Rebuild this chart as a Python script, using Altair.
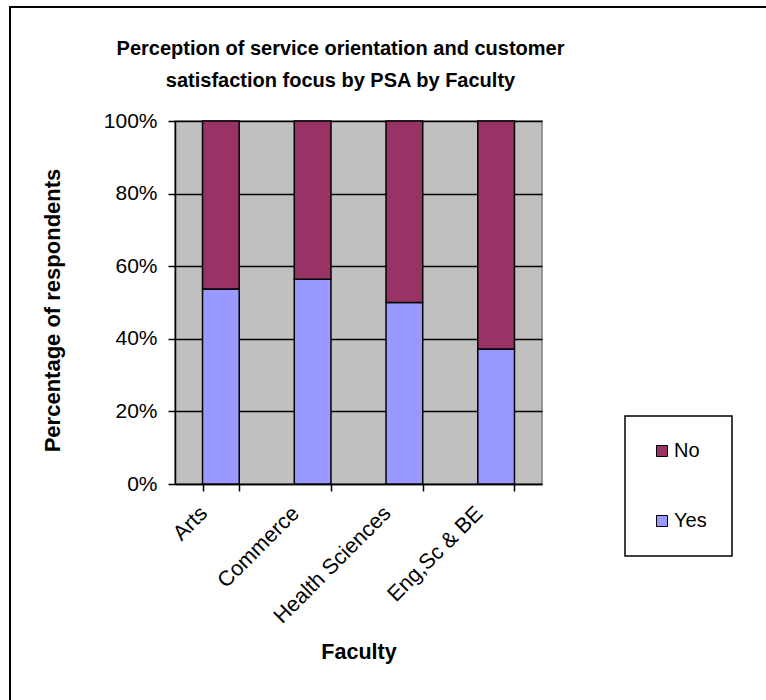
import altair as alt
import pandas as pd

faculties = ["Arts", "Commerce", "Health Sciences", "Eng,Sc & BE"]
yes_pct = [53.7, 56.4, 50.0, 37.2]
no_pct = [46.3, 43.6, 50.0, 62.8]
responses = ["No", "Yes"]
colors = ["#993366", "#9999FF"]
y_ticks = [0, 20, 40, 60, 80, 100]

rows = []
for f, y, n in zip(faculties, yes_pct, no_pct):
    rows.append({"Faculty": f, "Response": "Yes", "Pct": y})
    rows.append({"Faculty": f, "Response": "No", "Pct": n})
df = pd.DataFrame(rows)

FONT = "Liberation Sans"
W, H = 367, 363
L, T = 175, 121

bars = alt.Chart(df).mark_bar(stroke="black", strokeWidth=1.5).encode(
    x=alt.X("Faculty:N", sort=faculties,
            scale=alt.Scale(paddingInner=0.6, paddingOuter=0.3),
            axis=alt.Axis(title="Faculty", labelAngle=-45, labelAlign="right",
                          labelBaseline="middle", labelOffset=-17, labelPadding=19,
                          labelFontSize=21.5, labelFont=FONT, labelColor="black",
                          tickBand="extent", tickSize=7, tickColor="black", tickWidth=1.5,
                          domainColor="black", domainWidth=1.5, grid=False,
                          titleFont=FONT, titleFontSize=21.5, titleFontWeight="bold",
                          titleColor="black", titleY=174, titleBaseline="alphabetic",
                          labelLimit=300)),
    y=alt.Y("Pct:Q", stack="zero",
            scale=alt.Scale(domain=[0, 100], nice=False),
            axis=alt.Axis(title="Percentage of respondents", values=y_ticks,
                          labelExpr="datum.value + '%'",
                          labelFontSize=21, labelFont=FONT, labelColor="black",
                          labelPadding=11, tickSize=7, tickColor="black", tickWidth=1.5,
                          domainColor="black", domainWidth=1.5,
                          grid=True, gridColor="black", gridWidth=1.5,
                          titleFont=FONT, titleFontSize=22, titleFontWeight="bold",
                          titleColor="black", titleAngle=270, titleX=-123, titleY=189,
                          titleAlign="center", titleBaseline="middle")),
    color=alt.Color("Response:N",
                    scale=alt.Scale(domain=responses, range=colors),
                    legend=alt.Legend(title=None, orient="none", legendX=450, legendY=295,
                                      padding=25, rowPadding=50, symbolType="square",
                                      symbolSize=121, symbolStrokeColor="black",
                                      symbolStrokeWidth=1, symbolOpacity=1, symbolOffset=2,
                                      labelFontSize=20, labelFont=FONT, labelColor="black",
                                      labelOffset=2, fillColor="white", strokeColor="black")),
    order=alt.Order("Response:N", sort="descending"),
)

frame_top = alt.Chart(df).mark_rule(color="black", strokeWidth=2).encode(
    x=alt.value(9 - L), x2=alt.value(800 - L), y=alt.value(7 - T))
frame_left = alt.Chart(df).mark_rule(color="black", strokeWidth=2).encode(
    x=alt.value(10 - L), y=alt.value(6 - T), y2=alt.value(760 - T))

chart = alt.layer(bars, frame_top, frame_left).properties(
    width=W, height=H,
    background="white",
    title=alt.TitleParams(
        text=["Perception of service orientation and customer",
              "satisfaction focus by PSA by Faculty"],
        font=FONT, fontSize=20, fontWeight="bold", color="black",
        anchor="middle", frame="group", dx=-18, offset=0, dy=102,
        baseline="alphabetic", lineHeight=32),
    padding={"left": L, "top": T, "right": 766 - L - W, "bottom": 700 - T - H},
    autosize=alt.AutoSizeParams(type="none"),
).configure_view(
    fill="#C0C0C0", stroke="#808080", strokeWidth=1.5
).configure_legend(
    strokeWidth=1.5
)

chart.save("out.html", embed_options={"renderer": "svg", "actions": False})
